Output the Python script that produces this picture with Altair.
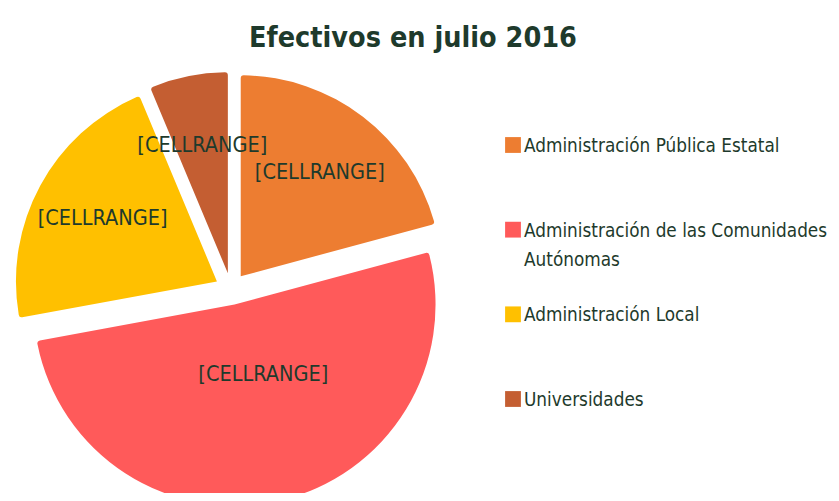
import math
import altair as alt
import pandas as pd

# ---- data ----
title_text = "Efectivos en julio 2016"
categories = [
    "Administración Pública Estatal",
    "Administración de las Comunidades Autónomas",
    "Administración Local",
    "Universidades",
]
legend_labels = [
    "Administración Pública Estatal",
    "Administración de las Comunidades\nAutónomas",
    "Administración Local",
    "Universidades",
]
shares = [20.8, 51.3, 21.6, 6.3]
slice_labels = ["[CELLRANGE]", "[CELLRANGE]", "[CELLRANGE]", "[CELLRANGE]"]
colors = ["#ED7D31", "#FF5A5A", "#FFC000", "#C45E32"]

# ---- style / layout ----
FONT = "DejaVu Sans Condensed, Liberation Sans Narrow, sans-serif"
TXT = "#1E3A2C"
W, H = 810, 425
PAD = {"left": 0, "top": 60, "right": 13, "bottom": 0}
CX, CY = 223, 221
R = 201
EXPLODE = 16
LABEL_R = 130

df = pd.DataFrame({
    "cat": categories,
    "share": shares,
    "order": list(range(len(categories))),
    "label": slice_labels,
    "legend": legend_labels,
})

base = (
    alt.Chart(df)
    .transform_window(cum="sum(share)", sort=[alt.SortField("order")])
    .transform_joinaggregate(total="sum(share)")
    .transform_calculate(
        a0="2*PI*(datum.cum - datum.share)/datum.total",
        a1="2*PI*datum.cum/datum.total",
    )
    .transform_calculate(mid="(datum.a0 + datum.a1)/2")
    .transform_calculate(
        cx=f"{CX} + {EXPLODE}*sin(datum.mid)",
        cy=f"{CY} - {EXPLODE}*cos(datum.mid)",
        lx=f"{CX} + {EXPLODE + LABEL_R}*sin(datum.mid)",
        ly=f"min({CY} - {EXPLODE + LABEL_R}*cos(datum.mid), 307)",
    )
)

color = alt.Color("cat:N", scale=alt.Scale(domain=categories, range=colors), legend=None)

arcs = base.mark_arc(outerRadius=R, cornerRadius=3).encode(
    theta=alt.Theta("a0:Q", scale=None),
    theta2="a1:Q",
    x=alt.X("cx:Q", scale=None),
    y=alt.Y("cy:Q", scale=None),
    color=color,
)

labels = base.mark_text(font=FONT, fontSize=21.5, color=TXT, baseline="middle").encode(
    x=alt.X("lx:Q", scale=None),
    y=alt.Y("ly:Q", scale=None),
    text="label:N",
)

leg_y = alt.Y(
    "cat:N", sort=categories,
    scale=alt.Scale(type="point", range=[77, 331], padding=0),
    axis=None,
)
squares = alt.Chart(df).mark_square(size=250, opacity=1, filled=True).encode(
    x=alt.value(505), y=leg_y, color=color,
)
legtext = alt.Chart(df).mark_text(
    align="left", baseline="alphabetic", dy=7, lineBreak="\n", lineHeight=29,
    font=FONT, fontSize=18.8, color=TXT,
).encode(x=alt.value(516), y=leg_y, text="legend:N")

chart = (
    alt.layer(arcs, labels, squares, legtext)
    .resolve_scale(x="independent", y="independent")
    .properties(
        width=W, height=H, padding=PAD,
        autosize=alt.AutoSizeParams(type="none"),
        title=alt.Title(
            title_text, font=FONT, fontSize=28.5, fontWeight="bold", color=TXT,
            anchor="middle", baseline="alphabetic", offset=23, dy=30, frame="group",
        ),
    )
    .configure_view(stroke=None)
)

chart.save("out.html", embed_options={"renderer": "svg", "actions": False})
